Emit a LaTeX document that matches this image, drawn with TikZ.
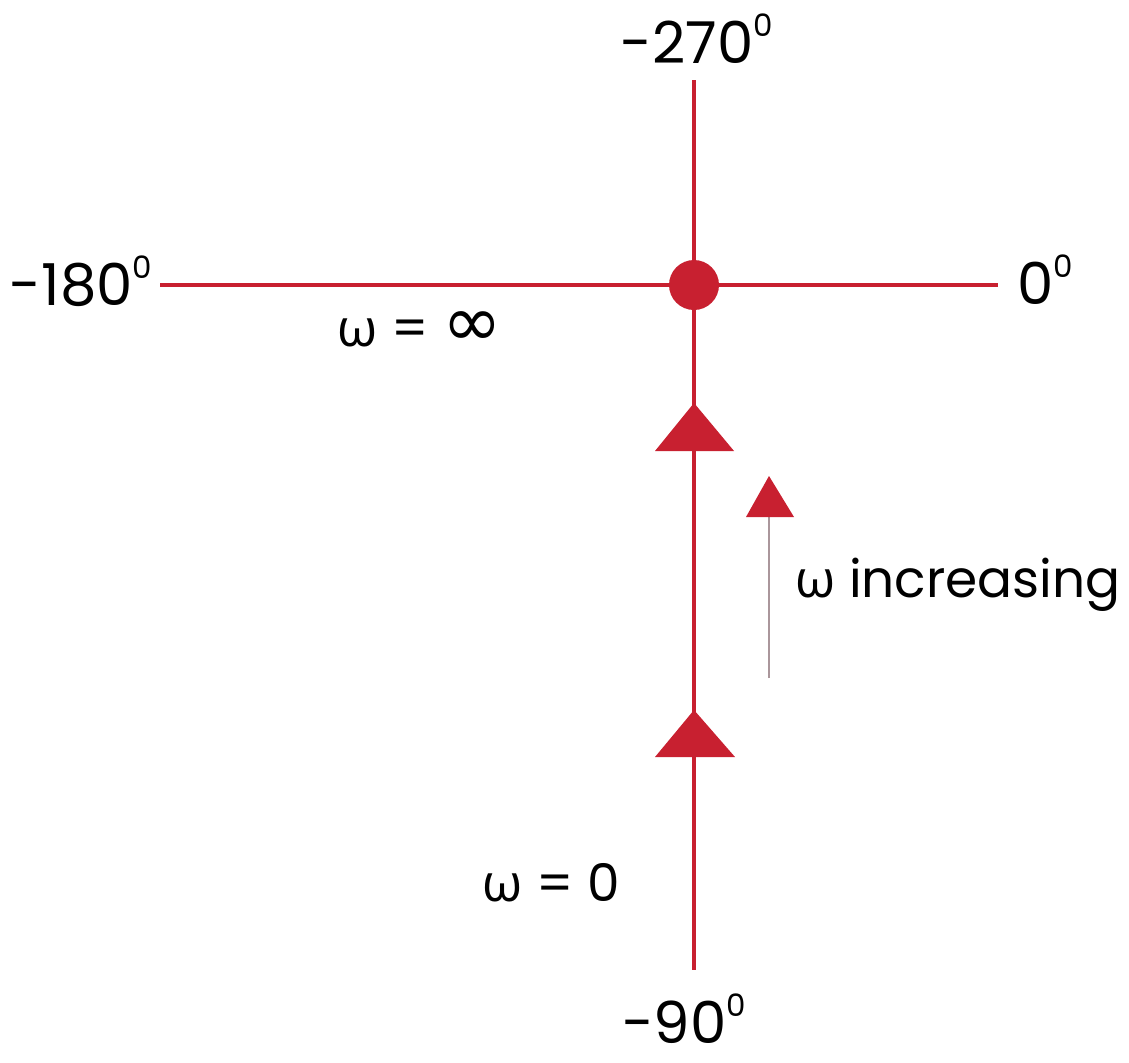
\documentclass[tikz,border=0pt]{standalone}
\usepackage{fontspec}
\setmainfont{Poppins}
\newfontfamily\grk{Open Sans}
\newfontfamily\symf{DejaVu Sans}
\definecolor{axred}{RGB}{200,32,48}
\definecolor{shaftgrey}{RGB}{170,150,155}
\newcommand{\degsup}{\raisebox{27bp}{\fontsize{31}{31}\selectfont 0}}
\begin{document}
\begin{tikzpicture}[x=1bp,y=-1bp,
  axis/.style={draw=axred,line width=4.5bp},
  deglbl/.style={inner sep=0pt,font=\fontsize{58}{60}\selectfont,text=black},
  omlbl/.style={inner sep=0pt,font=\fontsize{52}{54}\selectfont,text=black},
  marker/.style={fill=axred}]
\useasboundingbox (0,0) rectangle (1129,1063);
\fill[white] (0,0) rectangle (1129,1063);
% axis end points
\coordinate (top) at (694,80);
\coordinate (bot) at (694,970);
\coordinate (lft) at (160,285);
\coordinate (rgt) at (998,285);
\coordinate (org) at (694,285);
\draw[axis] (top) -- (bot);
\draw[axis] (lft) -- (rgt);
\node[circle,fill=axred,minimum size=50bp,inner sep=0pt] (dot) at (org) {};
% direction triangles
\fill[marker] (694,403) -- (734,451) -- (655,451) -- cycle;
\fill[marker] (694,710) -- (735,757) -- (655,757) -- cycle;
% small arrow
\coordinate (sa) at (769,678);
\coordinate (sb) at (769,515);
\draw[shaftgrey,line width=2.5bp] (sa) -- (sb);
\fill[axred] (769,476) -- (794,517) -- (746,517) -- cycle;
% labels
\node[deglbl,anchor=base] (l270) at (697,63) {-270\degsup};
\node[deglbl,anchor=base] (l180) at (81,305) {-180\degsup};
\node[deglbl,anchor=base] (l0) at (1045,304) {0\degsup};
\node[deglbl,anchor=base] (l90) at (684,1043) {-90\degsup};
\node[omlbl,anchor=base] (winf) at (420,346) {{\grk ω} = {\symf\fontsize{72}{72}\selectfont ∞}};
\node[omlbl,anchor=base] (wzero) at (551,901) {{\grk ω} = 0};
\node[omlbl,anchor=base west] (winc) at (795,597) {{\grk ω} increasing};
\end{tikzpicture}
\end{document}
